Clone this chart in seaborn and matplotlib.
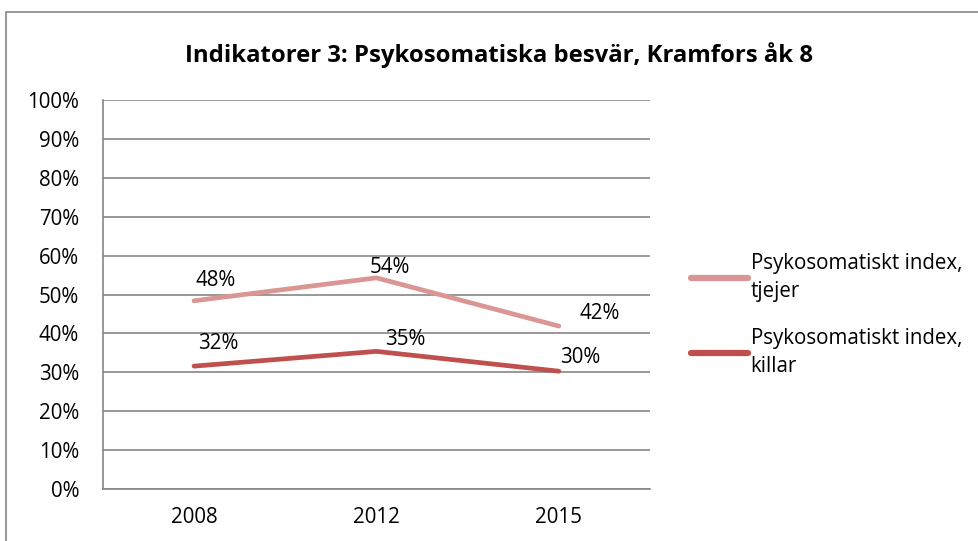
import pandas as pd
import matplotlib
matplotlib.use("Agg")
import matplotlib.pyplot as plt
import matplotlib.patches as mpatches
import seaborn as sns

years = ["2008", "2012", "2015"]
tjejer = [48.4, 54.3, 41.9]
killar = [31.6, 35.4, 30.3]
tjejer_labels = ["48%", "54%", "42%"]
killar_labels = ["32%", "35%", "30%"]
series_names = ["Psykosomatiskt index,\ntjejer", "Psykosomatiskt index,\nkillar"]
colors = ["#D99694", "#C0504D"]

records = pd.DataFrame({
    "year": years * 2,
    "x": list(range(len(years))) * 2,
    "value": tjejer + killar,
    "serie": [series_names[0]] * 3 + [series_names[1]] * 3,
})

sns.set_theme(style="white")
plt.rcParams["font.family"] = ["Open Sans", "DejaVu Sans"]
plt.rcParams["text.color"] = "black"
fs = 14.8

fig = plt.figure(figsize=(9.79, 5.41), dpi=100)
ax = fig.add_axes([0.105, 0.096, 0.559, 0.719])

sns.lineplot(data=records, x="x", y="value", hue="serie", palette=colors,
             linewidth=3.4, ax=ax, legend=True)
for line in ax.lines:
    line.set_solid_capstyle("round")

# label offsets in pixels, like Excel's automatic placement
offs = [[(22, 20), (13, 10), (41, 13)], [(24, 23), (29, 12), (21, 14)]]
for k, (vals, labs) in enumerate([(tjejer, tjejer_labels), (killar, killar_labels)]):
    for i, (v, t) in enumerate(zip(vals, labs)):
        ax.annotate(t, (i, v), xytext=(offs[k][i][0] * 0.72, offs[k][i][1] * 0.72),
                    textcoords="offset points", ha="center", va="center",
                    fontsize=fs, color="black")

ax.set_xlim(-0.5, 2.5)
ax.set_ylim(0, 100)
ax.set_yticks(range(0, 101, 10))
ax.set_yticklabels([f"{t}%" for t in range(0, 101, 10)], fontsize=fs, color="black")
ax.set_xticks(range(len(years)))
ax.set_xticklabels(years, fontsize=fs, color="black")
ax.tick_params(axis="y", length=0, pad=17)
ax.tick_params(axis="x", length=0, pad=13)
ax.yaxis.grid(True, color="#868686", linewidth=1.2)
ax.set_axisbelow(True)
for s in ["top", "right"]:
    ax.spines[s].set_visible(False)
for s in ["left", "bottom"]:
    ax.spines[s].set_color("#868686")
    ax.spines[s].set_linewidth(1.2)
ax.set_xlabel("")
ax.set_ylabel("")

leg = ax.legend(loc="upper left", bbox_to_anchor=(1.06, 0.629), frameon=False,
                fontsize=fs, handlelength=2.75, handletextpad=0.15,
                labelspacing=1.25, borderaxespad=0.0)
for h in leg.get_lines():
    h.set_linewidth(4.5)
for t in leg.get_texts():
    t.set_linespacing(1.45)
    t.set_color("black")

fig.text(0.51, 0.899, "Indikatorer 3: Psykosomatiska besvär, Kramfors åk 8",
         ha="center", va="center", fontsize=17.2, fontweight="bold", color="black")

border = mpatches.Rectangle((0.006, -0.05), 1.1, 1.028, transform=fig.transFigure,
                            fill=False, edgecolor="#868686", linewidth=1.2)
fig.patches.append(border)

fig.savefig("out.png", dpi=100)
